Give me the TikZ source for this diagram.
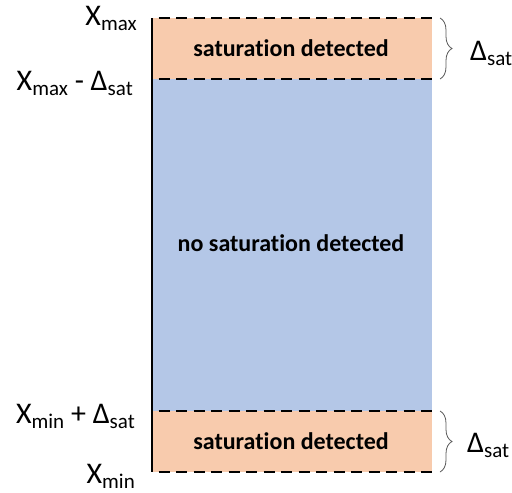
\documentclass[tikz,border=0pt]{standalone}
\usepackage{fontspec}
\setmainfont{Carlito}[Ligatures=NoCommon]
\usetikzlibrary{decorations.pathreplacing, positioning}

\definecolor{satfill}{HTML}{F8CBAD}
\definecolor{okfill}{HTML}{B4C7E7}
\newcommand\sbs[1]{\raisebox{-5pt}{\fontsize{21}{24}\selectfont #1}}

\begin{document}
\begin{tikzpicture}[x=1pt, y=-1pt, font=\fontsize{30}{34}\selectfont,
    limit/.style={black, line width=2.6pt, dash pattern=on 11pt off 6.5pt, dash phase=11pt},
    bandtext/.style={font=\fontsize{24}{28}\selectfont\bfseries},
    lbl/.style={anchor=base east, inner sep=0pt},
    brc/.style={decorate, decoration={brace, amplitude=12pt}, line width=0.8pt, black!65}]
    \useasboundingbox (0,0) rectangle (512,493);
    % Corners of the range
    \coordinate (topL) at (152,18);
    \coordinate (topR) at (432,18);
    \coordinate (upL) at (152,79);
    \coordinate (upR) at (432,79);
    \coordinate (loL) at (152,411);
    \coordinate (loR) at (432,411);
    \coordinate (botL) at (152,472);
    \coordinate (botR) at (432,472);

    % Bands
    \fill[satfill] (topL) rectangle (upR);
    \fill[okfill] (upL) rectangle (loR);
    \fill[satfill] (loL) rectangle (botR);
    \node[bandtext] (sattop) at (291,48) {saturation detected};
    \node[bandtext] (nosat) at (291,243) {no saturation detected};
    \node[bandtext] (satbot) at (291,441) {saturation detected};

    % Axis and limits
    \draw[line width=2pt] (topL) -- (botL);
    \draw[limit] (topL) -- (topR);
    \draw[limit] (upL) -- (upR);
    \draw[limit] (loL) -- (loR);
    \draw[limit] (botL) -- (botR);

    % Left labels
    \node[lbl] (xmax) at (137,25) {X\sbs{max}};
    \node[lbl] (xmaxd) at (133,90) {X\sbs{max} - Δ\sbs{sat}};
    \node[lbl] (xmind) at (135,423) {X\sbs{min} + Δ\sbs{sat}};
    \node[lbl] (xmin) at (135,483) {X\sbs{min}};

    % Braces
    \draw[brc] (440,18) -- (440,79);
    \draw[brc] (440,411) -- (440,472);
    \node[anchor=base west, inner sep=0pt] (dtop) at (470,60) {Δ\sbs{sat}};
    \node[anchor=base west, inner sep=0pt] (dbot) at (467,452) {Δ\sbs{sat}};
\end{tikzpicture}
\end{document}
